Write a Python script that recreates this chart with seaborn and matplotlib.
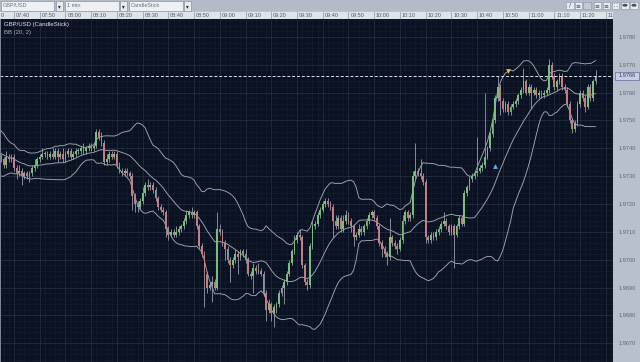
import numpy as np
import pandas as pd
import seaborn as sns
import matplotlib
matplotlib.use("Agg")
import matplotlib.pyplot as plt
from matplotlib.patches import Rectangle, Circle

# ---------------- data (prices in pips above 1.9700) ----------------
BASE = 1.9700
PIP = 0.0001
first_minute = "07:35"

close_pips = [
    36, 34, 37, 36, 37, 33, 31, 32, 30, 31,
    30, 31, 33, 34, 36, 37, 38, 38, 37, 38,
    37, 39, 37, 38, 36, 38, 39, 37, 38, 39,
    39, 40, 39, 40, 41, 40, 41, 46, 44, 42,
    35, 36, 38, 37, 38, 34, 32, 31, 32, 31,
    30, 23, 20, 19, 21, 24, 27, 26, 27, 25,
    22, 19, 18, 17, 11, 9, 10, 9, 10, 11,
    12, 14, 16, 17, 16, 17, 12, 5, 2, -5,
    -10, -9, -8, -10, 11, 10, 6, 4, 0, -2,
    0, 2, 1, 3, 2, 0, -5, -6, -3, -4,
    -4, -5, -12, -18, -16, -19, -17, -16, -12, -10,
    -8, -5, -1, 3, 7, 9, 8, -2, -8, -9,
    5, 12, 13, 16, 18, 20, 21, 20, 19, 14,
    12, 15, 11, 14, 16, 14, 12, 8, 9, 11,
    10, 12, 14, 16, 17, 15, 12, 6, 4, 2,
    1, 8, 6, 5, 4, 7, 14, 17, 15, 16,
    30, 32, 31, 30, 28, 8, 7, 9, 8, 10,
    11, 13, 14, 12, 10, 12, 9, 12, 15, 13,
    24, 26, 29, 30, 31, 32, 33, 34, 37, 40,
    45, 50, 58, 62, 57, 54, 56, 53, 55, 56,
    57, 59, 61, 64, 60, 62, 60, 61, 59, 60,
    59, 60, 61, 70, 66, 62, 64, 66, 62, 61,
    56, 50, 47, 49, 56, 60, 58, 55, 62, 58,
    64, 66,
]
wick_up_pips = [
    1, 1, 2, 1, 1, 1, 1, 2, 1, 1,
    1, 1, 1, 2, 1, 1, 2, 1, 1, 1,
    2, 1, 1, 1, 2, 1, 1, 1, 1, 1,
    1, 1, 2, 1, 1, 1, 1, 1, 1, 2,
    1, 2, 1, 1, 1, 1, 1, 1, 1, 1,
    1, 1, 1, 1, 1, 2, 1, 2, 1, 1,
    1, 1, 1, 1, 1, 1, 1, 1, 2, 1,
    1, 1, 2, 1, 2, 1, 1, 1, 1, 1,
    1, 1, 2, 1, 6, 2, 1, 1, 1, 1,
    1, 2, 1, 1, 1, 2, 1, 1, 2, 1,
    3, 1, 1, 1, 2, 1, 1, 1, 1, 1,
    1, 1, 1, 1, 2, 1, 2, 1, 1, 1,
    1, 2, 1, 1, 1, 1, 1, 1, 1, 1,
    2, 1, 1, 2, 2, 1, 1, 1, 1, 2,
    1, 1, 1, 1, 1, 1, 1, 1, 1, 1,
    1, 7, 1, 1, 1, 1, 2, 1, 1, 1,
    2, 10, 1, 5, 1, 1, 1, 1, 1, 1,
    1, 1, 3, 1, 1, 1, 1, 1, 1, 1,
    1, 1, 1, 1, 1, 12, 1, 1, 23, 1,
    1, 1, 1, 4, 1, 1, 1, 1, 1, 1,
    1, 1, 1, 5, 1, 1, 1, 1, 1, 1,
    1, 1, 1, 2, 1, 1, 1, 1, 1, 1,
    1, 1, 1, 1, 1, 1, 1, 1, 1, 1,
    1, 2,
]
wick_dn_pips = [
    1, 1, 1, 1, 1, 1, 2, 1, 3, 1,
    1, 2, 1, 1, 1, 1, 1, 1, 1, 1,
    1, 1, 2, 1, 1, 1, 1, 1, 1, 1,
    1, 1, 1, 1, 1, 1, 1, 1, 1, 1,
    1, 1, 1, 1, 1, 1, 1, 1, 1, 1,
    1, 5, 3, 2, 1, 1, 1, 1, 1, 1,
    1, 1, 1, 1, 3, 2, 1, 1, 1, 1,
    1, 1, 1, 1, 1, 1, 1, 1, 1, 12,
    2, 1, 6, 1, 1, 1, 1, 4, 1, 6,
    1, 1, 6, 1, 1, 1, 1, 1, 6, 1,
    1, 1, 1, 4, 1, 3, 5, 2, 1, 1,
    6, 1, 1, 1, 1, 1, 1, 1, 1, 2,
    1, 1, 1, 1, 1, 1, 1, 1, 1, 6,
    1, 1, 1, 1, 1, 1, 2, 3, 1, 1,
    1, 1, 1, 1, 1, 1, 1, 1, 3, 1,
    3, 1, 1, 1, 2, 1, 1, 1, 1, 1,
    1, 1, 1, 1, 1, 2, 1, 1, 1, 1,
    1, 1, 1, 1, 1, 1, 12, 1, 1, 1,
    1, 1, 1, 1, 1, 1, 1, 1, 1, 1,
    1, 1, 1, 1, 5, 1, 1, 1, 1, 1,
    1, 1, 1, 1, 1, 1, 6, 1, 1, 1,
    1, 1, 1, 1, 1, 1, 1, 1, 1, 1,
    1, 1, 1.5, 1, 1, 1, 1, 2, 1, 1,
    1, 1,
]
# closes of the 19 minutes before the first visible candle (off-screen, estimated
# from where the Bollinger bands start at the left edge)
warmup_pips = [45, 46, 44, 42, 40, 43, 41, 38, 36, 39, 37, 34, 32, 35, 33, 36, 34, 35, 37]

price_ticks = [1.9670, 1.9680, 1.9690, 1.9700, 1.9710, 1.9720, 1.9730,
               1.9740, 1.9750, 1.9760, 1.9770, 1.9780]
time_labels = ["07:30", "07:40", "07:50", "08:00", "08:10", "08:20", "08:30",
               "08:40", "08:50", "09:00", "09:10", "09:20", "09:30", "09:40",
               "09:50", "10:00", "10:10", "10:20", "10:30", "10:40", "10:50",
               "11:00", "11:10", "11:20", "11:30"]
current_price = 1.9766
signal_buy = ("10:47", 1.97338)
signal_sell = ("10:52", 1.97678)

# ---------------- derived ----------------
t0 = pd.Timestamp("2000-01-01 " + first_minute)
n = len(close_pips)
k = np.arange(n)
close = BASE + np.array(close_pips, float) * PIP
openp = np.r_[BASE + warmup_pips[-1] * PIP, close[:-1]]
high = np.maximum(openp, close) + np.array(wick_up_pips, float) * PIP
low = np.minimum(openp, close) - np.array(wick_dn_pips, float) * PIP

s = pd.Series(BASE + np.array(warmup_pips + close_pips, float) * PIP)
mid = s.rolling(20).mean().to_numpy()[-n:]
sd = s.rolling(20).std(ddof=0).to_numpy()[-n:]
upper, lower = mid + 2 * sd, mid - 2 * sd
df = pd.DataFrame({"k": k, "mid": mid, "upper": upper, "lower": lower})

def minute_index(hhmm):
    return (pd.Timestamp("2000-01-01 " + hhmm) - t0).total_seconds() / 60

# ---------------- figure ----------------
sns.set_style("dark")
plt.rcParams["font.family"] = ["Liberation Sans", "DejaVu Sans"]

W, H = 640, 362
fig = plt.figure(figsize=(W / 100, H / 100), dpi=100, facecolor="#b8c0cd")

def px_rect(x, y, w, h, **kw):
    r = Rectangle((x / W, 1 - (y + h) / H), w / W, h / H, transform=fig.transFigure, **kw)
    fig.add_artist(r)
    return r

def px_text(x, y, s, **kw):
    fig.text(x / W, 1 - y / H, s, **kw)

CH_TOP = 18.5
XLIM = (-0.44, 237.8)
YLIM = (1.966328, 1.978662)
ax = fig.add_axes([0, 0, 613 / W, (H - CH_TOP) / H])
ax.set_facecolor("#0a1120")

major_x = [minute_index(t) for t in time_labels]
ax.set_xticks(major_x)
ax.set_xticks(np.arange(-5, 240, 2), minor=True)
ax.set_yticks(price_ticks)
ax.set_yticks(np.arange(1.9664, 1.9788, 0.0002), minor=True)
ax.grid(which="minor", color="#141d30", lw=0.5)
ax.grid(which="major", color="#222c42", lw=0.6)
ax.set_axisbelow(True)
for sp in ax.spines.values():
    sp.set_visible(False)
ax.tick_params(axis="x", which="both", length=0, labelbottom=False)
ax.yaxis.tick_right()
ax.tick_params(axis="y", which="both", length=0, pad=4.2, labelsize=4.1, labelcolor="#5d6474")
ax.set_yticklabels([f"{p:.4f}" for p in price_ticks])

# Bollinger bands
for col in ["upper", "mid", "lower"]:
    sns.lineplot(data=df, x="k", y=col, ax=ax, color="#a2a6ae", lw=0.65, legend=False)
ax.set_xlabel("")
ax.set_ylabel("")

# candles
up = close >= openp
wick_col = "#9aa0ac"
ax.vlines(k, low, high, color=wick_col, lw=0.6, zorder=3)
body_lo = np.minimum(openp, close)
body_h = np.maximum(np.abs(close - openp), 0.3 * PIP)
ax.bar(k[up], body_h[up], bottom=body_lo[up], width=0.7, color="#78bf7b", lw=0, zorder=4)
ax.bar(k[~up], body_h[~up], bottom=body_lo[~up], width=0.7, color="#c47c85", lw=0, zorder=4)

# current price dashed line
ax.axhline(current_price, color="#dde1e8", lw=0.7, ls=(0, (3, 2)), zorder=5)

# signal markers
ax.scatter([minute_index(signal_buy[0])], [signal_buy[1]], marker="^", s=12,
           color="#5fb0f0", zorder=6, lw=0)
ax.scatter([minute_index(signal_sell[0])], [signal_sell[1]], marker="v", s=12,
           color="#f4b23c", zorder=6, lw=0)

ax.set_xlim(*XLIM)
ax.set_ylim(*YLIM)

ax.text(0.006, 0.99, "GBP/USD (CandleStick)", transform=ax.transAxes, fontsize=4.3,
        color="#e4e8ee", va="top", ha="left")
ax.text(0.006, 0.967, "BB (20, 2)", transform=ax.transAxes, fontsize=4.3,
        color="#a8aeb8", va="top", ha="left")

# current price label box on the right scale
fig.canvas.draw()
yb = ax.transData.transform((0, current_price))[1]
yb_px = H - yb
px_rect(614.5, yb_px - 3.8, 24.5, 7.6, facecolor="#c7cfe6", edgecolor="#6f7ca3", lw=0.6)
px_text(627, yb_px, f"{current_price:.4f}", fontsize=4.1, color="#3a4050", ha="center", va="center")

# left border line
px_rect(0, CH_TOP, 1.2, H - CH_TOP, facecolor="#7d8595", lw=0)

# ---------------- time axis band ----------------
axt = fig.add_axes([0, (H - CH_TOP) / H, 613 / W, 7 / H])
axt.set_facecolor("#dfe3ea")
axt.set_xticks([]); axt.set_yticks([])
axt.set_xlim(*XLIM)
axt.set_ylim(0, 1)
for sp in axt.spines.values():
    sp.set_visible(False)
for xv, lab in zip(major_x, time_labels):
    axt.axvline(xv, color="#a3aab8", lw=0.7)
    if xv < XLIM[0]:
        # only the tail of this label is visible at the left edge
        axt.text(XLIM[0] + 0.2, 0.45, lab[-1], fontsize=4.0, color="#4f5666",
                 va="center", ha="left")
    else:
        axt.text(xv + 0.7, 0.45, lab, fontsize=4.0, color="#4f5666", va="center",
                 ha="left", clip_on=True)

# ---------------- toolbar ----------------
px_rect(0, 0, W, 11, facecolor="#b3bbc9", lw=0)
for (bx, bw, label), (ax0, aw) in zip(
        [(0.5, 53, "GBP/USD"), (65, 54, "1 min"), (128.5, 54, "CandleStick")],
        [(55.5, 7), (120, 7), (183.5, 7)]):
    px_rect(bx, 1, bw, 9.5, facecolor="#eef0f3", edgecolor="#8c95a6", lw=0.5)
    px_text(bx + 2, 5.9, label, fontsize=4.0, color="#6a7282", va="center", ha="left")
    px_rect(ax0, 1, aw, 9.5, facecolor="#e6e9ee", edgecolor="#8c95a6", lw=0.5)
    px_text(ax0 + aw / 2, 6.2, "\u25BE", fontsize=4.0, color="#222831", va="center",
            ha="center", family=["DejaVu Sans"])

icons = [(566, "/"), (574.5, "\u2261"), (583, ""), (593.5, "\u2261"), (602.5, "\u2261"), (611.5, "\u2237")]
for ix, g in icons:
    px_rect(ix, 1.5, 7.5, 7.5, facecolor="#e9ebef" if g else "#c4cad5",
            edgecolor="#8c95a6", lw=0.4)
    if g:
        px_text(ix + 3.75, 5.4, g, fontsize=4.2, color="#3c4350", ha="center", va="center",
                family=["DejaVu Sans"])
for cx in (625, 634):
    px_rect(cx - 4, 1.5, 8, 7.5, facecolor="#e9ebef", edgecolor="#8c95a6", lw=0.4)
    fig.add_artist(Circle((cx / W, 1 - 5.25 / H), 2.6 / W, transform=fig.transFigure,
                          facecolor="#4a505c", lw=0))

fig.savefig("out.png", dpi=100, facecolor=fig.get_facecolor())
